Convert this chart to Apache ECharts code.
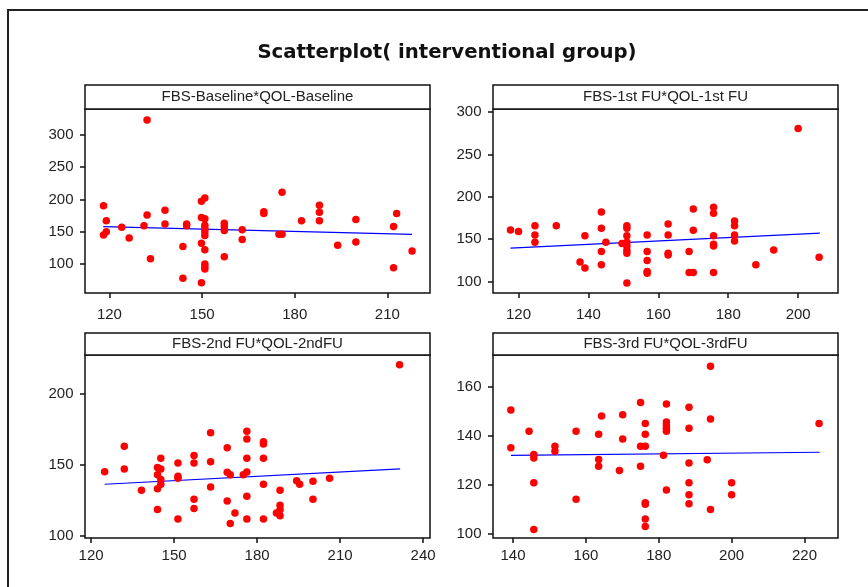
<!DOCTYPE html>
<html>
<head>
<meta charset="utf-8">
<script src="https://cdn.jsdelivr.net/npm/echarts@6/dist/echarts.min.js"></script>
<style>
  html, body { margin: 0; padding: 0; background: #fff; }
  #main { width: 868px; height: 587px; }
</style>
</head>
<body>
<div id="main"></div>
<script>
// [QOL, FBS] pairs
var baseline = [[118.1,190],[118.1,145],[119,150],[119,167],[124,157],[126.4,140],[131.2,159],[132.2,176],[132.2,323],[133.3,108],
  [138,183],[138,162],[143.8,127],[143.8,78],[145,162],[145,159],[149.8,197],[150.9,202],[149.8,172],[150.9,170],
  [150.9,160],[150.9,155],[150.9,150],[150.9,144],[149.8,132],[150.9,122],[150.9,100],[150.9,96],[150.9,92],[149.8,71],
  [157.2,163],[157.2,158],[157.2,152],[157.2,111],[163,153],[163,138],[170,181],[170,178],[174.9,146],[175.9,146],
  [175.9,211],[182.2,167],[188,191],[188,180],[188,167],[193.9,129],[199.8,169],[199.8,134],[212,158],[213,178],
  [212,94],[218,120]];
var fu1 = [[117.7,161],[120,159],[124.7,166],[124.7,155],[124.7,146.5],[130.8,166],[137.6,123],[139,116],[139,154],[143.7,182],
  [143.7,163],[143.7,135.5],[143.7,120],[145,146.5],[149.6,145],[151,166],[151,163],[151,154],[151,146.5],[151,142],
  [151,137],[151,133.5],[151,98.5],[156.8,155],[156.8,135.5],[156.8,125],[156.8,112],[156.8,110],[162.8,168],[162.8,155],
  [162.8,133.5],[162.8,131.5],[168.8,135.5],[168.8,110.7],[170,110.7],[170,185.7],[170,160.6],[175.8,187.7],[175.8,180.6],[175.8,154],
  [175.8,144],[175.8,142],[175.8,110.7],[181.8,171.6],[181.8,166],[181.8,155],[181.8,148],[187.9,120],[193,137.4],[200,280.4],
  [206,128.8]];
var fu2 = [[124.9,145],[132,163],[132,147],[138.2,132],[144,118.5],[144,133],[144,142.8],[144,148],[145.2,154.4],[145.2,147],
  [145.2,139.5],[145.2,136.2],[151.4,151.2],[151.4,141.8],[151.4,140.4],[151.4,111.7],[157.2,156.5],[157.2,151.2],[157.2,125.7],[157.2,119.2],
  [163.2,172.4],[163.2,152.1],[163.2,134.3],[169.2,161.9],[169.2,144.6],[170.3,142.8],[169.2,124.5],[170.3,108.6],[172,116],[175,142.8],
  [176.3,144.9],[176.3,173.4],[176.3,168],[176.3,154.4],[176.3,127.8],[176.3,111.7],[182.3,166.1],[182.3,164.5],[182.3,154.4],[182.3,136.2],
  [182.3,111.7],[187,116],[188.3,132],[188.3,121.5],[188.3,118.2],[188.3,114],[194.3,138.6],[195.4,136.2],[200.2,138.3],[200.2,125.7],
  [206.2,140.4],[231.5,220.3]];
var fu3 = [[139.4,150.4],[139.4,135],[144.4,141.8],[145.7,132.3],[145.7,130.9],[145.7,120.8],[145.7,101.7],[151.5,135.7],[151.5,133.6],[157.3,141.8],
  [157.3,114],[163.5,140.5],[163.5,130.2],[163.5,127.5],[164.3,148],[169.2,125.8],[170.1,148.5],[170.1,138.6],[175,153.5],[175,135.7],
  [175,127.5],[176.3,135.7],[176.3,144.9],[176.3,140.5],[176.3,112.6],[176.3,112],[176.3,106],[176.3,102.9],[181.3,132],[182.1,152.9],
  [182.1,145.6],[182.1,144.3],[182.1,143],[182.1,141.8],[182.1,117.8],[188.3,151.6],[188.3,143],[188.3,128.8],[188.3,120.8],[188.3,115.9],
  [188.3,112.2],[193.3,130.1],[194.2,168.3],[194.2,146.8],[194.2,109.8],[200,120.8],[200,115.9],[224,144.9]];

// fitted lines, end points as read
var fitBaseline = [[118,157.7],[218,145.8]];
var fitFu1 = [[117.7,139.4],[206.2,157.1]];
var fitFu2 = [[124.9,136.2],[231.7,147]];
var fitFu3 = [[139.4,131.9],[224.2,133.2]];

var titles = ['FBS-Baseline*QOL-Baseline', 'FBS-1st FU*QOL-1st FU', 'FBS-2nd FU*QOL-2ndFU', 'FBS-3rd FU*QOL-3rdFU'];
var xTicks = [[120,150,180,210],[120,140,160,180,200],[120,150,180,210,240],[140,160,180,200,220]];
var yTicks = [[100,150,200,250,300],[100,150,200,250,300],[100,150,200],[100,120,140,160]];

var points = [baseline, fu1, fu2, fu3];
var fits = [fitBaseline, fitFu1, fitFu2, fitFu3];

// panel layout (pixels) and axis ranges
var boxes = [
  {left: 85, top: 109, width: 345, height: 184, head: 24, xGap: 14.5},
  {left: 493, top: 109, width: 345, height: 184, head: 24, xGap: 14.5},
  {left: 85, top: 355, width: 345, height: 183, head: 22, xGap: 10},
  {left: 493, top: 355, width: 345, height: 183, head: 22, xGap: 10}
];
var ranges = [
  {xmin: 112.1, xmax: 223.8, ymin: 55, ymax: 340},
  {xmin: 112.7, xmax: 211.4, ymin: 86.6, ymax: 303.5},
  {xmin: 117.8, xmax: 242.5, ymin: 98.4, ymax: 227.1},
  {xmin: 134.5, xmax: 229.2, ymin: 98.2, ymax: 172.9}
];

var font = 'Liberation Sans, Arial, sans-serif';
var grids = [], xAxes = [], yAxes = [], series = [], graphics = [];

for (var i = 0; i < 4; i++) {
  var b = boxes[i], r = ranges[i];
  grids.push({
    left: b.left, top: b.top, width: b.width, height: b.height,
    show: true, borderColor: '#111', borderWidth: 1.5, backgroundColor: '#fff'
  });
  xAxes.push({
    type: 'value', gridIndex: i, min: r.xmin, max: r.xmax,
    axisLine: {show: false},
    axisTick: {show: true, length: 5, customValues: xTicks[i], lineStyle: {color: '#111', width: 1.5}},
    axisLabel: {customValues: xTicks[i], margin: b.xGap, color: '#222', fontSize: 15, fontFamily: font},
    splitLine: {show: false}
  });
  yAxes.push({
    type: 'value', gridIndex: i, min: r.ymin, max: r.ymax,
    axisLine: {show: false},
    axisTick: {show: true, length: 5, customValues: yTicks[i], lineStyle: {color: '#111', width: 1.5}},
    axisLabel: {customValues: yTicks[i], margin: 11.5, color: '#222', fontSize: 15, fontFamily: font},
    splitLine: {show: false}
  });
  series.push({
    type: 'scatter', xAxisIndex: i, yAxisIndex: i,
    symbolSize: 7.5, itemStyle: {color: '#ff0000', opacity: 1},
    data: points[i], z: 3
  });
  series.push({
    type: 'line', xAxisIndex: i, yAxisIndex: i,
    symbol: 'none', lineStyle: {color: '#0000ff', width: 1.2},
    data: fits[i], z: 2, silent: true
  });
  // header strip above each panel
  graphics.push({
    type: 'rect',
    shape: {x: b.left, y: b.top - b.head, width: b.width, height: b.head},
    style: {fill: '#fff', stroke: '#111', lineWidth: 1.5}
  });
  graphics.push({
    type: 'text', x: b.left + b.width / 2, y: b.top - b.head / 2,
    style: {text: titles[i], fill: '#222', font: '15px ' + font, textAlign: 'center', textVerticalAlign: 'middle'}
  });
}

// outer frame (only left and top edges visible in the picture)
graphics.push({
  type: 'rect', shape: {x: 8, y: 10, width: 900, height: 700},
  style: {fill: 'none', stroke: '#222', lineWidth: 2}
});
graphics.push({
  type: 'text', x: 447, y: 53,
  style: {text: 'Scatterplot( interventional group)', fill: '#111', font: 'bold 19.7px DejaVu Sans, sans-serif', textAlign: 'center', textVerticalAlign: 'middle'}
});

var chart = echarts.init(document.getElementById('main'));
chart.setOption({
  backgroundColor: '#fff',
  animation: false,
  grid: grids,
  xAxis: xAxes,
  yAxis: yAxes,
  series: series,
  graphic: graphics
});
</script>
</body>
</html>
